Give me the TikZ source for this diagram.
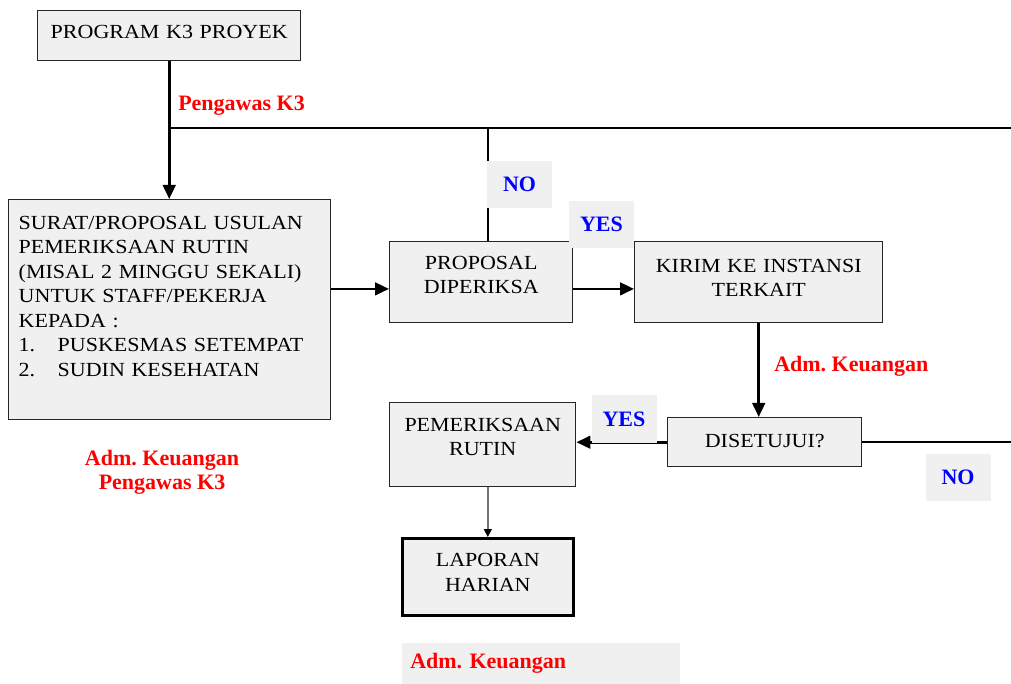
\documentclass[tikz,border=0pt]{standalone}
\usepackage{fontspec}
\setmainfont{Liberation Serif}
\newfontfamily\boxfont[FakeStretch=1.1]{Liberation Serif}
\usetikzlibrary{arrows.meta}
\definecolor{boxgray}{RGB}{240,240,240}
\frenchspacing

\begin{document}
\begin{tikzpicture}[
    x=0.75pt, y=-0.75pt,
    every node/.style={inner sep=0pt},
    box/.style={draw=black!85, line width=1.1pt, fill=boxgray, align=center,
                anchor=north west, font=\boxfont\fontsize{15pt}{18.4pt}\selectfont},
    who/.style ={text=red, font=\bfseries\fontsize{16.5pt}{18pt}\selectfont},
    ans/.style ={fill=boxgray, minimum width=48.75pt, minimum height=35.25pt,
                 text=blue, font=\bfseries\fontsize{16.5pt}{18pt}\selectfont},
    arr/.style ={-{Triangle[length=10.5pt, width=9.5pt]}, line width=1.9pt},
    link/.style={line width=1.5pt},
    garr/.style={-{Triangle[length=6pt, width=6pt, color=black]}, draw=black!55,
                 line width=1pt}
  ]
  \useasboundingbox (0,0) rectangle (1011,684);
  \node[box, text width=197.25pt, text height=20.7pt, text depth=16.8pt]
        (prog) at (37,10) {PROGRAM K3 PROYEK};
  \node[box, align=left, inner xsep=7.5pt, text width=226.5pt, text height=22.2pt,
        text depth=142.8pt] (surat) at (8,199)
        {SURAT/PROPOSAL USULAN\\PEMERIKSAAN RUTIN\\(MISAL 2 MINGGU SEKALI)\\
         UNTUK STAFF/PEKERJA\\KEPADA :\\
         \makebox[29.25pt][l]{1.}PUSKESMAS SETEMPAT\\
         \makebox[29.25pt][l]{2.}SUDIN KESEHATAN};
  \node[box, text width=137.25pt, text height=20.7pt, text depth=40.05pt]
        (prop) at (389,241) {PROPOSAL\\DIPERIKSA};
  \node[box, text width=186pt, text height=22.95pt, text depth=37.8pt]
        (kirim) at (634,241) {KIRIM KE INSTANSI\\TERKAIT};
  \node[box, text width=145.5pt, text height=22.2pt, text depth=14.55pt]
        (dis) at (667,417) {DISETUJUI?};
  \node[box, text width=139.5pt, text height=21.45pt, text depth=41.55pt]
        (pem) at (389,402) {PEMERIKSAAN\\RUTIN};
  \node[box, draw=black, line width=2pt, text width=128.25pt, text height=21.45pt,
        text depth=36.3pt] (lap) at (401,537) {LAPORAN\\HARIAN};

  \coordinate (edge) at (1011,128);
  \coordinate (j) at (prog.south |- edge);
  \coordinate (pn) at ([xshift=4.9pt]prop.north);
  \coordinate (pw) at ([yshift=-5pt]prop.west);
  \draw[arr] (prog.south) -- (prog.south |- surat.north);
  \draw[link] (j) -- (edge);
  \draw[link] (pn) -- (pn |- edge);
  \draw[arr] (pw -| surat.east) -- (pw);
  \draw[arr] ([yshift=-5pt]prop.east) -- ([yshift=-5pt]kirim.west);
  \draw[arr] (kirim.south) -- (kirim.south |- dis.north);
  \draw[arr] (dis.west) -- (dis.west -| pem.east);
  \draw[link] (dis.east) -- (dis.east -| edge);
  \draw[garr] (lap.north |- pem.south) -- (lap.north);

  \node[who, anchor=west] (pk) at (178,106) {Pengawas K3};
  \node[who, anchor=west] (ak1) at (774,366) {Adm. Keuangan};
  \node[who, align=center] (ak2) at (162,472) {Adm. Keuangan\\Pengawas K3};
  \node[who, fill=boxgray, anchor=north west, minimum height=30.75pt,
        text width=196.5pt, inner xsep=6pt, align=left] (ak3) at (402,643)
        {Adm. Keuangan};
  \node[ans] (no1)  at (519.5,184.5) {NO};
  \node[ans] (yes1) at (601.5,224.5) {YES};
  \node[ans] (yes2) at (624,419) {YES};
  \node[ans] (no2)  at (958,477.5) {NO};
\end{tikzpicture}
\end{document}
